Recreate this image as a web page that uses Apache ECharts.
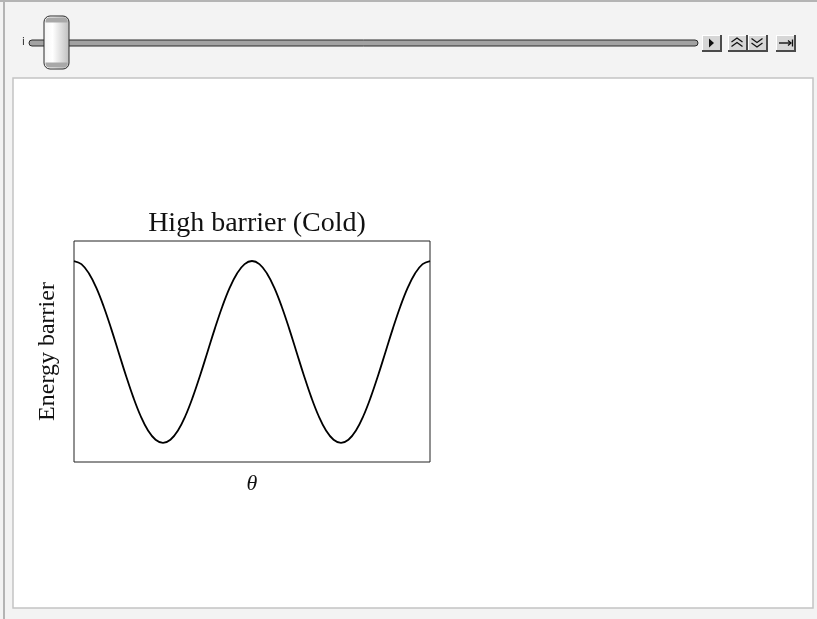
<!DOCTYPE html>
<html>
<head>
<meta charset="utf-8">
<script src="https://cdn.jsdelivr.net/npm/echarts@6/dist/echarts.min.js"></script>
<style>
  html, body { margin: 0; padding: 0; background: #ffffff; }
  #main { width: 817px; height: 619px; }
</style>
</head>
<body>
<div id="main"></div>
<script>
// Rotation angle θ in degrees (two full turns across the plot)
const theta = [0, 15, 30, 45, 60, 75, 90, 105, 120, 135, 150, 165, 180,
  195, 210, 225, 240, 255, 270, 285, 300, 315, 330, 345, 360,
  375, 390, 405, 420, 435, 450, 465, 480, 495, 510, 525, 540,
  555, 570, 585, 600, 615, 630, 645, 660, 675, 690, 705, 720];

// Relative energy barrier along θ (high-barrier / cold case)
const energy = [1, 0.966, 0.866, 0.707, 0.5, 0.259, 0, -0.259, -0.5, -0.707, -0.866, -0.966, -1,
  -0.966, -0.866, -0.707, -0.5, -0.259, 0, 0.259, 0.5, 0.707, 0.866, 0.966, 1,
  0.966, 0.866, 0.707, 0.5, 0.259, 0, -0.259, -0.5, -0.707, -0.866, -0.966, -1,
  -0.966, -0.866, -0.707, -0.5, -0.259, 0, 0.259, 0.5, 0.707, 0.866, 0.966, 1];

const plotTitle = 'High barrier (Cold)';
const yName = 'Energy barrier';
const xName = 'θ';
const sliderLabel = 'i';

const serif = '"Liberation Serif", "DejaVu Serif", serif';
const points = theta.map((t, i) => [t, energy[i]]);

// Small control button drawn as a raised square
function button(x, y, w, h, icon) {
  return {
    type: 'group', x: x, y: y,
    children: [
      { type: 'rect', shape: { x: 0, y: 0, width: w, height: h }, style: { fill: '#4a4a4a' } },
      { type: 'rect', shape: { x: 0, y: 0, width: w - 2, height: h - 2 }, style: { fill: '#ffffff' } },
      { type: 'rect', shape: { x: 1, y: 1, width: w - 3, height: h - 3 }, style: { fill: '#d6d6d6' } }
    ].concat(icon)
  };
}

const chevron = (x, y, up) => ({
  type: 'polyline',
  shape: { points: up ? [[x, y + 4], [x + 5.5, y], [x + 11, y + 4]] : [[x, y], [x + 5.5, y + 4], [x + 11, y]] },
  style: { stroke: '#111', lineWidth: 1.3, fill: null }
});

const chart = echarts.init(document.getElementById('main'), null, { renderer: 'canvas' });

chart.setOption({
  animation: false,
  backgroundColor: '#ffffff',
  graphic: [
    // control panel background and frame
    { type: 'rect', z: -10, shape: { x: 0, y: 0, width: 817, height: 619 }, style: { fill: '#f3f3f3' } },
    { type: 'rect', z: -9, shape: { x: 0, y: 0, width: 817, height: 2 }, style: { fill: '#b4b4b4' } },
    { type: 'rect', z: -9, shape: { x: 3, y: 0, width: 2, height: 619 }, style: { fill: '#b4b4b4' } },
    // white content pane
    { type: 'rect', z: -8, shape: { x: 13, y: 78, width: 800, height: 530 },
      style: { fill: '#ffffff', stroke: '#c4c4c4', lineWidth: 1.5 } },
    // slider label
    { type: 'text', x: 22, y: 37, style: { text: sliderLabel, font: '10px "DejaVu Sans", sans-serif', fill: '#222' } },
    // slider track
    { type: 'rect', shape: { x: 29, y: 40, width: 669, height: 6, r: 3 },
      style: { fill: '#a2a2a2', stroke: '#2a2a2a', lineWidth: 1 } },
    // slider thumb
    { type: 'group', x: 44, y: 16, children: [
      { type: 'rect', shape: { x: 0, y: 0, width: 25, height: 53, r: 6 },
        style: {
          fill: new echarts.graphic.LinearGradient(0, 0, 1, 0, [
            { offset: 0, color: '#f4f4f4' }, { offset: 0.35, color: '#ffffff' }, { offset: 1, color: '#bdbdbd' }
          ]),
          stroke: '#2a2a2a', lineWidth: 1
        } },
      { type: 'rect', shape: { x: 1.5, y: 1.5, width: 22, height: 5, r: [4, 4, 0, 0] }, style: { fill: '#a8a8a8' } },
      { type: 'rect', shape: { x: 1.5, y: 46.5, width: 22, height: 5, r: [0, 0, 4, 4] }, style: { fill: '#a8a8a8' } }
    ] },
    // animation controls
    button(702, 35, 20, 17, [
      { type: 'polygon', shape: { points: [[7, 3.5], [12, 8], [7, 12.5]] }, style: { fill: '#111' } }
    ]),
    button(728, 35, 20, 17, [chevron(3.5, 3, true), chevron(3.5, 7.5, true)]),
    button(748, 35, 20, 17, [chevron(3.5, 3.5, false), chevron(3.5, 8, false)]),
    button(776, 35, 20, 17, [
      { type: 'line', shape: { x1: 3, y1: 8, x2: 15, y2: 8 }, style: { stroke: '#111', lineWidth: 1.4 } },
      { type: 'polyline', shape: { points: [[12, 5.5], [15, 8], [12, 10.5]] }, style: { stroke: '#111', lineWidth: 1.3, fill: null } },
      { type: 'line', shape: { x1: 16.5, y1: 4.5, x2: 16.5, y2: 11.5 }, style: { stroke: '#111', lineWidth: 1.3 } }
    ])
  ],
  title: {
    text: plotTitle,
    left: 252, top: 205, textAlign: 'center',
    textStyle: { fontFamily: serif, fontSize: 28, fontWeight: 'normal', color: '#111' }
  },
  grid: {
    left: 74, top: 241, width: 356, height: 221,
    show: true, borderColor: '#222', borderWidth: 1, backgroundColor: 'transparent'
  },
  xAxis: {
    type: 'value', min: 0, max: 720,
    name: xName, nameLocation: 'middle', nameGap: 11,
    nameTextStyle: { fontFamily: serif, fontStyle: 'italic', fontSize: 22, color: '#111' },
    axisLine: { show: false }, axisTick: { show: false }, axisLabel: { show: false }, splitLine: { show: false }
  },
  yAxis: {
    type: 'value', min: -1.21, max: 1.22,
    name: yName, nameLocation: 'middle', nameGap: 14,
    nameTextStyle: { fontFamily: serif, fontSize: 24, color: '#111' },
    axisLine: { show: false }, axisTick: { show: false }, axisLabel: { show: false }, splitLine: { show: false }
  },
  series: [{
    type: 'line',
    data: points,
    smooth: 0.4,
    showSymbol: false,
    lineStyle: { color: '#000', width: 1.8 }
  }]
});
</script>
</body>
</html>
